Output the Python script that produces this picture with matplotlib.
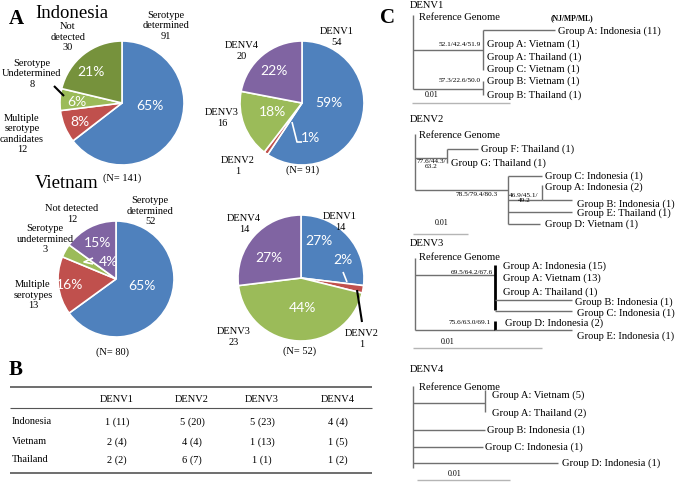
import matplotlib.pyplot as plt

W, H = 675, 482
SERIF = "Liberation Serif"
SANS = "Lato"

# ---- panel A data
status_names_id = ["Serotype\ndetermined", "Multiple\nserotype\ncandidates", "Serotype\nUndetermined", "Not\ndetected"]
status_n_id = [91, 12, 8, 30]
status_pct_id = ["65%", "8%", "6%", "21%"]
status_col_id = ["#4F81BD", "#C0504D", "#9BBB59", "#76923C"]

status_names_vn = ["Serotype\ndetermined", "Multiple\nserotypes", "Serotype\nundetermined", "Not detected"]
status_n_vn = [52, 13, 3, 12]
status_pct_vn = ["65%", "16%", "4%", "15%"]
status_col_vn = ["#4F81BD", "#C0504D", "#9BBB59", "#8064A2"]

sero_names = ["DENV1", "DENV2", "DENV3", "DENV4"]
sero_col = ["#4F81BD", "#C0504D", "#9BBB59", "#8064A2"]
sero_n_id = [54, 1, 16, 20]
sero_pct_id = ["59%", "1%", "18%", "22%"]
sero_n_vn = [14, 1, 23, 14]
sero_pct_vn = ["27%", "2%", "44%", "27%"]

# ---- panel B data
tab_cols = ["DENV1", "DENV2", "DENV3", "DENV4"]
tab_rows = ["Indonesia", "Vietnam", "Thailand"]
tab_cells = [["1 (11)", "5 (20)", "5 (23)", "4 (4)"],
             ["2 (4)", "4 (4)", "1 (13)", "1 (5)"],
             ["2 (2)", "6 (7)", "1 (1)", "1 (2)"]]

# ---- panel C data
d1_leaves = ["Group A: Indonesia (11)", "Group A: Vietnam (1)", "Group A: Thailand (1)",
             "Group C: Vietnam (1)", "Group B: Vietnam (1)", "Group B: Thailand (1)"]
d1_boot = ["52.1/42.4/51.9", "57.3/22.6/50.0"]
d2_leaves = ["Group F: Thailand (1)", "Group G: Thailand (1)", "Group C: Indonesia (1)",
             "Group A: Indonesia (2)", "Group B: Indonesia (1)", "Group E: Thailand (1)",
             "Group D: Vietnam (1)"]
d2_boot = ["77.6/44.3/\n63.2", "78.5/79.4/80.3", "46.9/45.1/\n49.2"]
d3_leaves = ["Group A: Indonesia (15)", "Group A: Vietnam (13)", "Group A: Thailand (1)",
             "Group B: Indonesia (1)", "Group C: Indonesia (1)", "Group D: Indonesia (2)",
             "Group E: Indonesia (1)"]
d3_boot = ["69.5/64.2/67.6", "75.6/63.0/69.1"]
d4_leaves = ["Group A: Vietnam (5)", "Group A: Thailand (2)", "Group B: Indonesia (1)",
             "Group C: Indonesia (1)", "Group D: Indonesia (1)"]

fig = plt.figure(figsize=(W / 100, H / 100), dpi=100)


def pie_at(vals, cols, cx, cy, r):
    a = fig.add_axes([(cx - 1.25 * r) / W, (H - cy - 1.25 * r) / H, 2.5 * r / W, 2.5 * r / H])
    a.pie(vals, colors=cols, startangle=90, counterclock=False,
          wedgeprops=dict(edgecolor="white", linewidth=1.2))
    return a


pie_at(status_n_id, status_col_id, 122, 103, 62)
pie_at(sero_n_id, sero_col, 302, 103, 62)
pie_at(status_n_vn, status_col_vn, 116, 279, 58)
pie_at(sero_n_vn, sero_col, 301, 278, 63)

ax = fig.add_axes([0, 0, 1, 1], zorder=5)
ax.patch.set_alpha(0)
ax.set_xlim(0, W)
ax.set_ylim(H, 0)
ax.axis("off")


def t(x, y, s, size=7.5, ha="center", fam=SERIF, **kw):
    ax.text(x, y, s, fontsize=size, ha=ha, va="center", family=fam, linespacing=1.15, **kw)


def seg(xs, ys, c="#707070", lw=1.0):
    ax.plot(xs, ys, color=c, lw=lw, solid_capstyle="butt")


# ---- panel A text
t(9, 19, "A", size=15, ha="left", weight="bold")
t(35, 14, "Indonesia", size=13.5, ha="left")
t(35, 183, "Vietnam", size=13.5, ha="left")

pos = [(166, 26), (22, 134), (32, 74), (68, 37)]
for (x, y), nm, n in zip(pos, status_names_id, status_n_id):
    t(x, y, f"{nm}\n{n}")
pos = [(150, 106), (80, 122), (77, 102), (91, 72)]
for (x, y), p in zip(pos, status_pct_id):
    t(x, y, p, size=10, fam=SANS, color="white")
seg([54, 64], [86, 96], c="black", lw=1.5)
t(122, 178, "(N= 141)")

pos = [(337, 37), (238, 166), (222, 118), (242, 51)]
for (x, y), nm, n in zip(pos, sero_names, sero_n_id):
    t(x, y, f"{nm}\n{n}")
pos = [(329, 103), (310, 138), (272, 112), (274, 71)]
for (x, y), p in zip(pos, sero_pct_id):
    t(x, y, p, size=10, fam=SANS, color="white")
seg([292, 297, 302], [122, 142, 142], c="white", lw=1.2)
t(303, 170, "(N= 91)")

pos = [(150, 211), (33, 295), (45, 239), (72, 214)]
for (x, y), nm, n in zip(pos, status_names_vn, status_n_vn):
    t(x, y, f"{nm}\n{n}")
pos = [(142, 286), (70, 285), (108, 262), (98, 243)]
for (x, y), p in zip(pos, status_pct_vn):
    t(x, y, p, size=10, fam=SANS, color="white")
seg([93, 84, 93], [258, 262, 264], c="white", lw=1.2)
t(113, 352, "(N= 80)")

pos = [(340, 222), (362, 339), (234, 337), (244, 224)]
for (x, y), nm, n in zip(pos, sero_names, sero_n_vn):
    t(x, y, f"{nm}\n{n}")
pos = [(319, 241), (343, 260), (302, 308), (269, 258)]
for (x, y), p in zip(pos, sero_pct_vn):
    t(x, y, p, size=10, fam=SANS, color="white")
seg([343, 347], [272, 282], c="white", lw=1.2)
seg([357, 362], [290, 322], c="black", lw=1.5)
t(300, 351, "(N= 52)")

# ---- panel B table
t(9, 370, "B", size=15, ha="left", weight="bold")
for y, lw in [(387, 1.2), (408, 0.8), (473, 1.2)]:
    seg([10, 372], [y, y], c="#555555", lw=lw)
col_x = [117, 192, 262, 338]
row_y = [422, 442, 460]
for x, c in zip(col_x, tab_cols):
    t(x, 399, c, size=7.5)
for y, r, cells in zip(row_y, tab_rows, tab_cells):
    t(12, y, r, size=7.5, ha="left")
    for x, c in zip(col_x, cells):
        t(x, y, c, size=7.5)

# ---- panel C trees
t(380, 18, "C", size=15, ha="left", weight="bold")
ls = 7.6
bs = 5.2

# DENV1
t(410, 6, "DENV1", size=ls, ha="left")
t(419, 18, "Reference Genome", size=ls, ha="left")
t(572, 18, "(NJ/MP/ML)", size=5.5, weight="bold")
seg([413, 413], [15, 89])
seg([413, 483], [50, 50])
seg([483, 483], [30, 70])
seg([483, 555], [30, 30])
seg([413, 483], [89, 89])
seg([483, 483], [81, 95])
seg([412, 510], [103, 103], c="#b5b5b5")
t(432, 95, "0.01", size=5.8)
lx = [558, 487, 487, 487, 487, 487]
ly = [31, 44, 57, 69, 81, 95]
for x, y, s in zip(lx, ly, d1_leaves):
    t(x, y, s, size=ls, ha="left")
t(481, 45, d1_boot[0], size=bs, ha="right")
t(481, 81, d1_boot[1], size=bs, ha="right")

# DENV2
t(410, 119, "DENV2", size=ls, ha="left")
t(419, 135, "Reference Genome", size=ls, ha="left")
seg([415, 415], [134, 190])
seg([415, 447], [158, 158])
seg([447, 447], [149, 163])
seg([447, 478], [149, 149])
seg([415, 508], [190, 190])
seg([508, 508], [176, 224])
seg([508, 542], [176, 176])
seg([508, 542], [200, 200])
seg([542, 542], [185, 200])
seg([542, 572], [200, 200])
seg([508, 572], [212, 212])
seg([508, 540], [224, 224])
seg([413, 468], [234, 234], c="#b5b5b5")
t(442, 223, "0.01", size=5.8)
lx = [481, 451, 545, 545, 577, 577, 545]
ly = [149, 163, 176, 187, 204, 213, 224]
for x, y, s in zip(lx, ly, d2_leaves):
    t(x, y, s, size=ls, ha="left")
t(431, 164, d2_boot[0], size=bs)
t(498, 195, d2_boot[1], size=bs, ha="right")
t(524, 198, d2_boot[2], size=bs)

# DENV3
t(410, 243, "DENV3", size=ls, ha="left")
t(419, 257, "Reference Genome", size=ls, ha="left")
seg([415, 415], [258, 330])
seg([415, 495], [275, 275])
seg([495, 495], [265, 310], c="black", lw=2)
seg([495, 572], [300, 300])
seg([495, 572], [311, 311])
seg([415, 495], [330, 330])
seg([495, 495], [321, 330], c="black", lw=2)
seg([495, 572], [330, 330])
seg([413, 542], [348, 348], c="#b5b5b5")
t(448, 342, "0.01", size=5.8)
lx = [503, 503, 503, 575, 577, 505, 577]
ly = [266, 278, 292, 302, 313, 323, 336]
for x, y, s in zip(lx, ly, d3_leaves):
    t(x, y, s, size=ls, ha="left")
t(493, 273, d3_boot[0], size=bs, ha="right")
t(491, 322, d3_boot[1], size=bs, ha="right")

# DENV4
t(410, 369, "DENV4", size=ls, ha="left")
t(419, 387, "Reference Genome", size=ls, ha="left")
seg([413, 413], [386, 468])
seg([413, 485], [403, 403])
seg([485, 485], [390, 412])
seg([413, 485], [430, 430])
seg([413, 483], [447, 447])
seg([413, 558], [463, 463])
seg([417, 510], [480, 480], c="#b5b5b5")
t(455, 474, "0.01", size=5.8)
lx = [492, 492, 487, 485, 562]
ly = [395, 413, 430, 447, 463]
for x, y, s in zip(lx, ly, d4_leaves):
    t(x, y, s, size=ls, ha="left")

fig.savefig("out.png", dpi=100)
